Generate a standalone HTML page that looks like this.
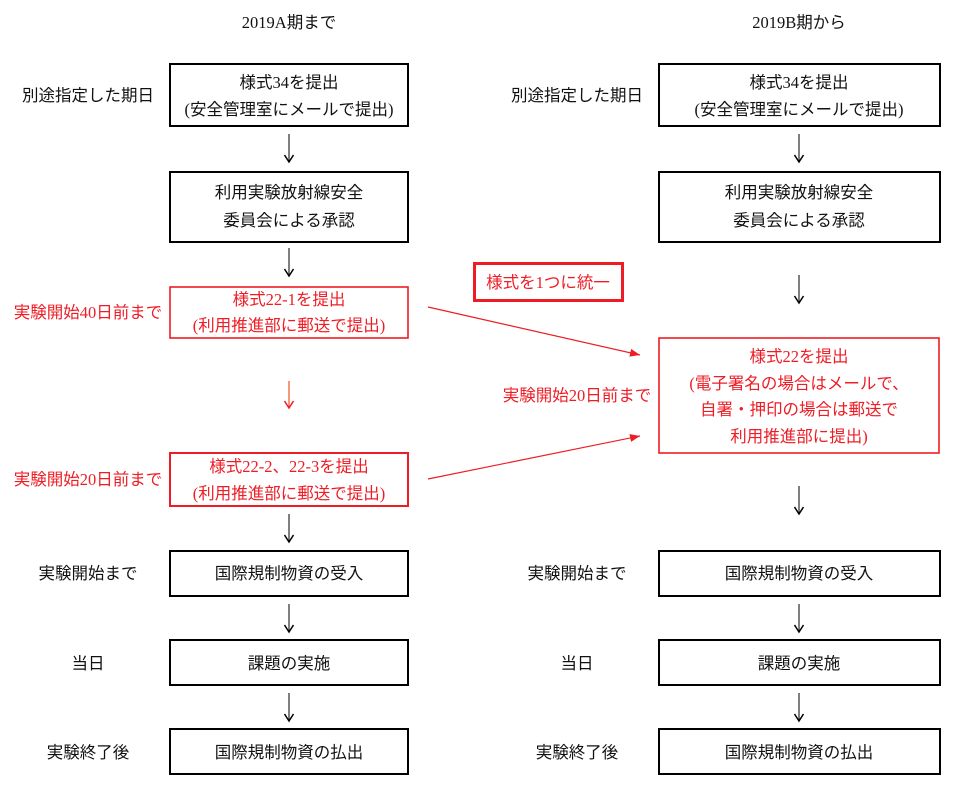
<!DOCTYPE html>
<html><head><meta charset="utf-8">
<style>
html,body{margin:0;padding:0;background:#fff;}
svg{display:block;}
text{font-family:"Liberation Serif","Noto Sans CJK JP",serif;font-size:16.5px;}
.k{fill:#111;}
.r{fill:#ee1c25;}
</style></head><body>
<svg width="964" height="788" viewBox="0 0 964 788" xmlns="http://www.w3.org/2000/svg">
<defs>
<marker id="ah" markerWidth="10" markerHeight="8" refX="10" refY="4" orient="auto" markerUnits="userSpaceOnUse">
<path d="M0,0 L10,4 L0,8 Z" fill="#ee1c25"/>
</marker>
</defs>

<!-- headers -->
<text class="k" x="289" y="28" text-anchor="middle">2019A期まで</text>
<text class="k" x="799" y="28" text-anchor="middle">2019B期から</text>

<!-- LEFT COLUMN -->
<text class="k" x="88" y="101" text-anchor="middle">別途指定した期日</text>
<rect x="170" y="64" width="238" height="62" fill="none" stroke="#000" stroke-width="2"/>
<text class="k" x="289" y="88" text-anchor="middle">様式34を提出</text>
<text class="k" x="289" y="115" text-anchor="middle">(安全管理室にメールで提出)</text>

<rect x="170" y="172" width="238" height="70" fill="none" stroke="#000" stroke-width="2"/>
<text class="k" x="289" y="198" text-anchor="middle">利用実験放射線安全</text>
<text class="k" x="289" y="226" text-anchor="middle">委員会による承認</text>

<text class="r" x="88" y="318" text-anchor="middle">実験開始40日前まで</text>
<rect x="170" y="287" width="238" height="51" fill="none" stroke="#ee1c25" stroke-width="1.6"/>
<text class="r" x="289" y="305" text-anchor="middle">様式22-1を提出</text>
<text class="r" x="289" y="331" text-anchor="middle">(利用推進部に郵送で提出)</text>

<text class="r" x="88" y="485" text-anchor="middle">実験開始20日前まで</text>
<rect x="170" y="453" width="238" height="53" fill="none" stroke="#ee1c25" stroke-width="2"/>
<text class="r" x="289" y="472" text-anchor="middle">様式22-2、22-3を提出</text>
<text class="r" x="289" y="499" text-anchor="middle">(利用推進部に郵送で提出)</text>

<text class="k" x="88" y="579" text-anchor="middle">実験開始まで</text>
<rect x="170" y="551" width="238" height="45" fill="none" stroke="#000" stroke-width="2"/>
<text class="k" x="289" y="579" text-anchor="middle">国際規制物資の受入</text>

<text class="k" x="88" y="669" text-anchor="middle">当日</text>
<rect x="170" y="640" width="238" height="45" fill="none" stroke="#000" stroke-width="2"/>
<text class="k" x="289" y="669" text-anchor="middle">課題の実施</text>

<text class="k" x="88" y="758" text-anchor="middle">実験終了後</text>
<rect x="170" y="729" width="238" height="45" fill="none" stroke="#000" stroke-width="2"/>
<text class="k" x="289" y="758" text-anchor="middle">国際規制物資の払出</text>

<!-- arrows -->
<g stroke="#3a3a3a" stroke-width="1.3" fill="none">
<line x1="289" y1="134" x2="289" y2="161"/>
<line x1="289" y1="248" x2="289" y2="275"/>
<line x1="289" y1="514" x2="289" y2="541"/>
<line x1="289" y1="604" x2="289" y2="631"/>
<line x1="289" y1="693" x2="289" y2="720"/>
<line x1="799" y1="134" x2="799" y2="161"/>
<line x1="799" y1="275" x2="799" y2="302"/>
<line x1="799" y1="486" x2="799" y2="513"/>
<line x1="799" y1="604" x2="799" y2="631"/>
<line x1="799" y1="693" x2="799" y2="720"/>
</g>
<g stroke="#000" stroke-width="1.5" fill="none">
<polyline points="284.5,155 289,162 293.5,155"/>
<polyline points="284.5,269 289,276 293.5,269"/>
<polyline points="284.5,535 289,542 293.5,535"/>
<polyline points="284.5,625 289,632 293.5,625"/>
<polyline points="284.5,714 289,721 293.5,714"/>
<polyline points="794.5,155 799,162 803.5,155"/>
<polyline points="794.5,296 799,303 803.5,296"/>
<polyline points="794.5,507 799,514 803.5,507"/>
<polyline points="794.5,625 799,632 803.5,625"/>
<polyline points="794.5,714 799,721 803.5,714"/>
</g>
<line x1="289" y1="381" x2="289" y2="407" stroke="#f0603a" stroke-width="1.3"/>
<polyline points="284.5,401 289,408 293.5,401" stroke="#ee1c25" stroke-width="1.5" fill="none"/>

<!-- RIGHT COLUMN -->
<text class="k" x="577" y="101" text-anchor="middle">別途指定した期日</text>
<rect x="659" y="64" width="281" height="62" fill="none" stroke="#000" stroke-width="2"/>
<text class="k" x="799" y="88" text-anchor="middle">様式34を提出</text>
<text class="k" x="799" y="115" text-anchor="middle">(安全管理室にメールで提出)</text>

<rect x="659" y="172" width="281" height="70" fill="none" stroke="#000" stroke-width="2"/>
<text class="k" x="799" y="198" text-anchor="middle">利用実験放射線安全</text>
<text class="k" x="799" y="226" text-anchor="middle">委員会による承認</text>

<rect x="474.5" y="263.5" width="148" height="37" fill="none" stroke="#ee1c25" stroke-width="3"/>
<text class="r" x="548" y="288" text-anchor="middle">様式を1つに統一</text>

<text class="r" x="577" y="401" text-anchor="middle">実験開始20日前まで</text>
<rect x="659" y="338" width="280" height="115" fill="none" stroke="#ee1c25" stroke-width="1.6"/>
<text class="r" x="799" y="362" text-anchor="middle">様式22を提出</text>
<text class="r" x="799" y="389" text-anchor="middle">(電子署名の場合はメールで、</text>
<text class="r" x="799" y="415" text-anchor="middle">自署・押印の場合は郵送で</text>
<text class="r" x="799" y="442" text-anchor="middle">利用推進部に提出)</text>

<line x1="428" y1="307" x2="640" y2="355" stroke="#ee1c25" stroke-width="1.2" marker-end="url(#ah)"/>
<line x1="428" y1="479" x2="640" y2="436" stroke="#ee1c25" stroke-width="1.2" marker-end="url(#ah)"/>

<text class="k" x="577" y="579" text-anchor="middle">実験開始まで</text>
<rect x="659" y="551" width="281" height="45" fill="none" stroke="#000" stroke-width="2"/>
<text class="k" x="799" y="579" text-anchor="middle">国際規制物資の受入</text>

<text class="k" x="577" y="669" text-anchor="middle">当日</text>
<rect x="659" y="640" width="281" height="45" fill="none" stroke="#000" stroke-width="2"/>
<text class="k" x="799" y="669" text-anchor="middle">課題の実施</text>

<text class="k" x="577" y="758" text-anchor="middle">実験終了後</text>
<rect x="659" y="729" width="281" height="45" fill="none" stroke="#000" stroke-width="2"/>
<text class="k" x="799" y="758" text-anchor="middle">国際規制物資の払出</text>
</svg>
</body></html>
